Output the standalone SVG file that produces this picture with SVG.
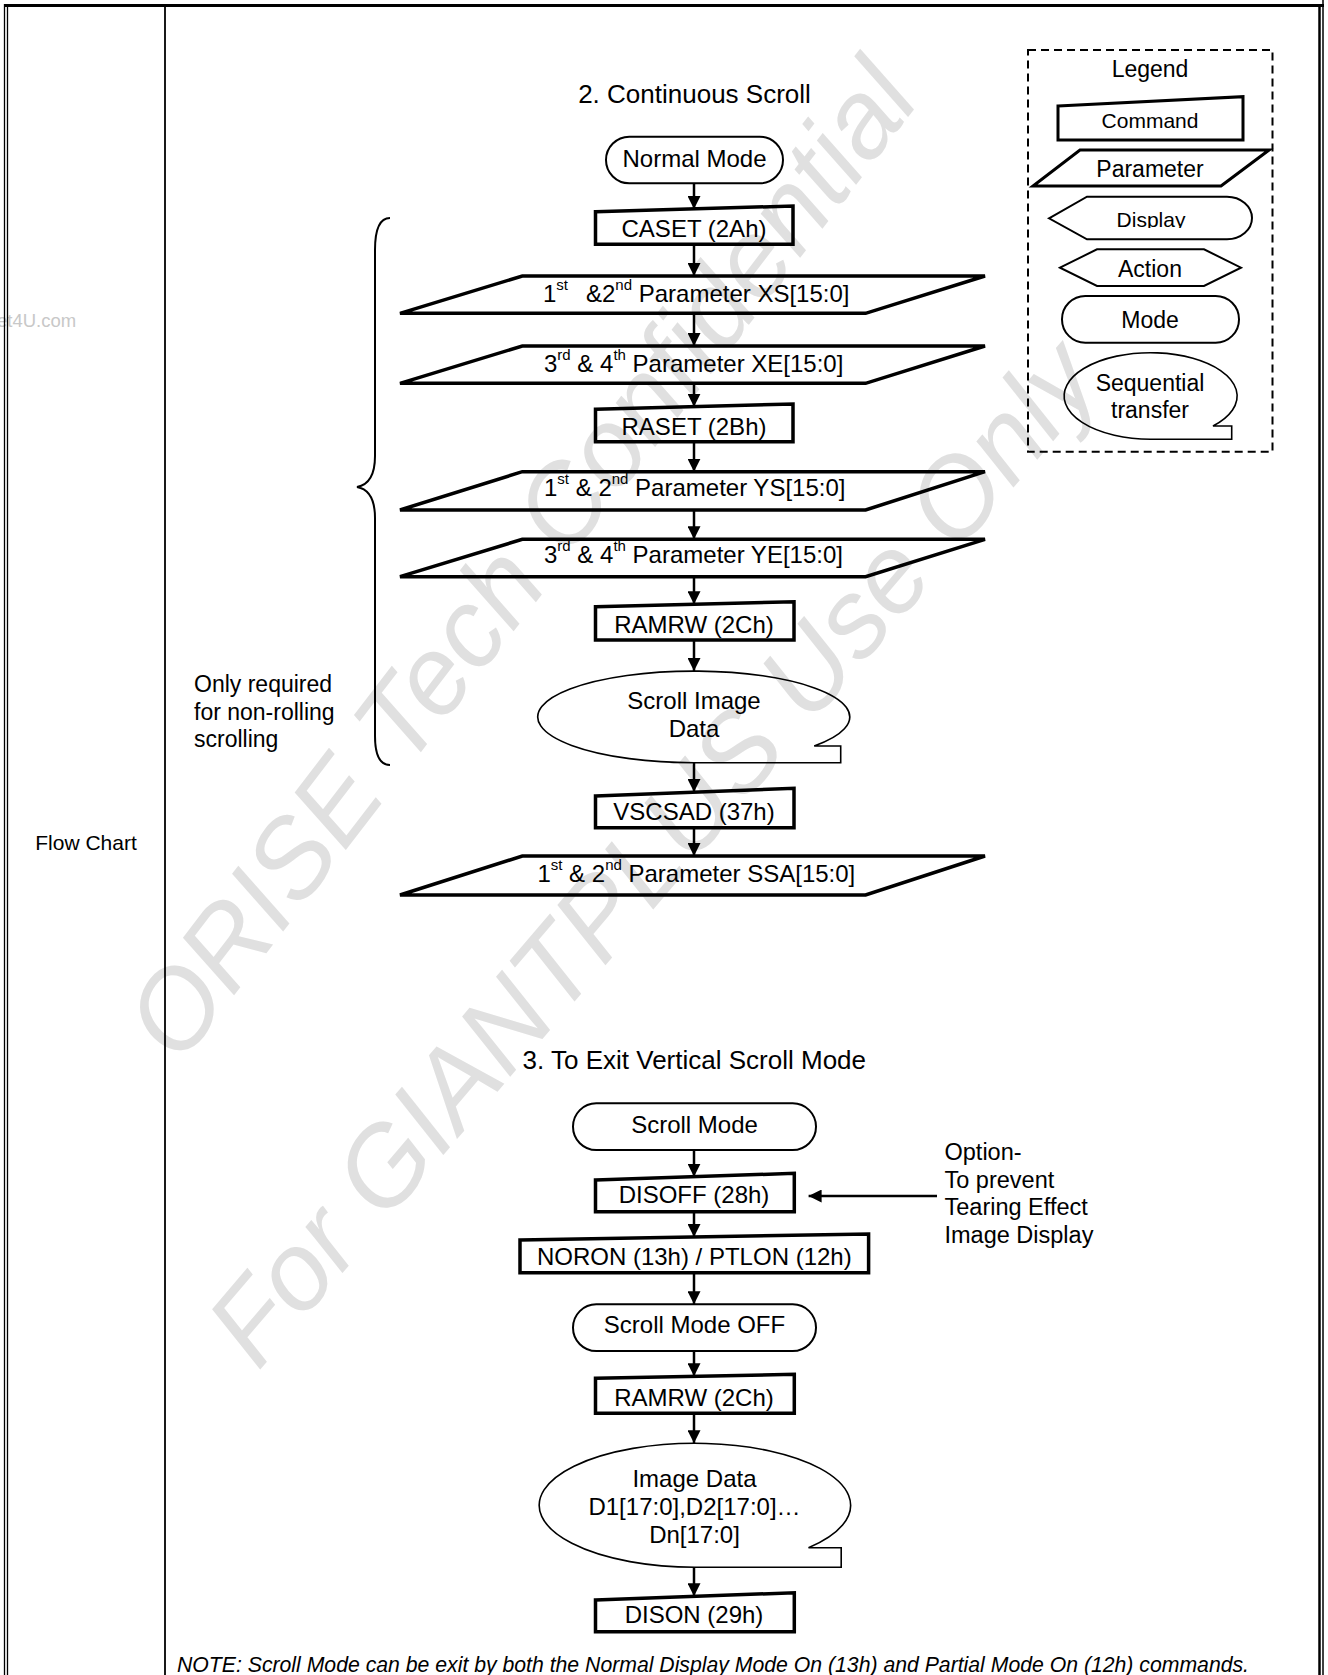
<svg xmlns="http://www.w3.org/2000/svg" width="1328" height="1675" viewBox="0 0 1328 1675">
<defs>
<style>
text{font-family:"Liberation Sans",Arial,sans-serif;fill:#000}
.t{font-size:24px;text-anchor:middle}
.p{font-size:24px}
.sup{font-size:15px}
.ttl{font-size:26px;text-anchor:middle}
.cmd{fill:none;stroke:#000;stroke-width:3.5;stroke-linejoin:miter}
.par{fill:none;stroke:#000;stroke-width:3.5;stroke-linejoin:miter}
.thin{fill:none;stroke:#000;stroke-width:2}
.conn{stroke:#000;stroke-width:2.5;fill:none}
.frm{stroke:#000;fill:none}
.wm{font-size:110px;font-style:italic;fill:#e0e0e0}
.lg{font-size:23px;text-anchor:middle}
.side{font-size:23px}
</style>
<marker id="ah" markerWidth="13" markerHeight="13" refX="13" refY="6.5" orient="auto" markerUnits="userSpaceOnUse"><path d="M0,0 L13,6.5 L0,13 Z" fill="#000"/></marker>
<clipPath id="dispclip"><rect x="1040" y="195" width="220" height="33"/></clipPath>
</defs>
<rect width="1328" height="1675" fill="#fff"/>

<g id="watermark">
<text class="wm" transform="translate(180,1066) rotate(-52.5)">ORISE Tech Confidential</text>
<text class="wm" transform="translate(258,1372) rotate(-49.5)">For GIANTPLUS Use Only</text>
<text x="-3" y="327" style="font-size:18.5px;fill:#c8c8c8">et4U.com</text>
</g>

<g id="frame" class="frm">
<line x1="4" y1="5.5" x2="1324" y2="5.5" stroke-width="3.2"/>
<line x1="4.5" y1="4" x2="4.5" y2="1675" stroke-width="1.3"/>
<line x1="7.5" y1="4" x2="7.5" y2="1675" stroke-width="1.3"/>
<line x1="165" y1="5" x2="165" y2="1675" stroke-width="1.8"/>
<line x1="1319.5" y1="4" x2="1319.5" y2="1675" stroke-width="2.5"/>
<line x1="1323" y1="0" x2="1323" y2="1675" stroke-width="1.5"/>
</g>

<g id="side-label">
<text x="86" y="850" style="font-size:21px;text-anchor:middle">Flow Chart</text>
</g>

<g id="legend">
<rect x="1028" y="50" width="244.5" height="401.7" fill="none" stroke="#000" stroke-width="2" stroke-dasharray="8,5"/>
<text class="lg" x="1150" y="76.7">Legend</text>
<polygon class="cmd" style="stroke-width:3" points="1058,106 1243,96.7 1243,140 1058,140"/>
<text x="1150" y="128.3" style="font-size:21px;text-anchor:middle">Command</text>
<polygon class="par" style="stroke-width:3" points="1080,150 1269,150 1221,186 1033,186"/>
<text class="lg" x="1150" y="176.7">Parameter</text>
<path class="thin" d="M1049,218.3 L1087,196.7 L1227,196.7 A25,21.3 0 0 1 1227,239.3 L1087,239.3 Z"/>
<text x="1151" y="226.7" clip-path="url(#dispclip)" style="font-size:21px;text-anchor:middle">Display</text>
<polygon class="thin" points="1060,267.7 1097,249.3 1204,249.3 1241,267.7 1204,286 1097,286"/>
<text class="lg" x="1150" y="276.7">Action</text>
<rect class="thin" x="1062" y="296" width="177" height="46.7" rx="23.3"/>
<text class="lg" x="1150" y="328.3">Mode</text>
<path class="thin" style="stroke-width:1.6" d="M1231.7,439.3 L1150.5,439.3 A86.5,43.3 0 1 1 1213,426 L1231.7,426 Z"/>
<text class="lg" x="1150" y="390.7">Sequential</text>
<text class="lg" x="1150" y="418.3">transfer</text>
</g>

<g id="bracket">
<path class="thin" d="M390,218 C380,218 375,230 375,250 L375,456 C375,476 368,485 357,487 C368,489 375,498 375,518 L375,736 C375,754 380,765 390,765"/>
<text class="side" x="194" y="692">Only required</text>
<text class="side" x="194" y="720">for non-rolling</text>
<text class="side" x="194" y="747">scrolling</text>
</g>

<g id="title-2"><text class="ttl" x="694.5" y="102.7">2. Continuous Scroll</text></g>

<g id="n-normal-mode">
<rect class="thin" x="606" y="136.7" width="177" height="46.6" rx="23.3"/>
<text class="t" x="694.5" y="166.7">Normal Mode</text>
</g>
<g id="n-caset">
<polygon class="cmd" points="595.5,211.7 793,206 793,244.3 595.5,244.3"/>
<text class="t" x="694" y="236.7">CASET (2Ah)</text>
</g>
<g id="n-xs">
<polygon class="par" points="522.3,276 985,276 865.6,313.3 400,313.3"/>
<text class="p" x="543" y="301.7">1<tspan class="sup" dy="-12">st</tspan><tspan x="586" dy="12">&amp;2</tspan><tspan class="sup" dy="-12">nd</tspan><tspan dy="12"> Parameter XS[15:0]</tspan></text>
</g>
<g id="n-xe">
<polygon class="par" points="522.3,346 985,346 865.6,383.3 400,383.3"/>
<text class="p" x="544" y="371.7">3<tspan class="sup" dy="-12">rd</tspan><tspan dy="12"> &amp; 4</tspan><tspan class="sup" dy="-12">th</tspan><tspan dy="12"> Parameter XE[15:0]</tspan></text>
</g>
<g id="n-raset">
<polygon class="cmd" points="595.5,409.3 793,404 793,441.7 595.5,441.7"/>
<text class="t" x="694" y="435">RASET (2Bh)</text>
</g>
<g id="n-ys">
<polygon class="par" points="522.3,471.7 985,471.7 865.6,510 400,510"/>
<text class="p" x="544" y="496">1<tspan class="sup" dy="-12">st</tspan><tspan dy="12"> &amp; 2</tspan><tspan class="sup" dy="-12">nd</tspan><tspan dy="12"> Parameter YS[15:0]</tspan></text>
</g>
<g id="n-ye">
<polygon class="par" points="522.3,539.3 985,539.3 865.6,576.7 400,576.7"/>
<text class="p" x="544" y="563.3">3<tspan class="sup" dy="-12">rd</tspan><tspan dy="12"> &amp; 4</tspan><tspan class="sup" dy="-12">th</tspan><tspan dy="12"> Parameter YE[15:0]</tspan></text>
</g>
<g id="n-ramrw">
<polygon class="cmd" points="595.5,606.7 794,601.7 794,640 595.5,640"/>
<text class="t" x="694" y="632.7">RAMRW (2Ch)</text>
</g>
<g id="n-scroll-image-data">
<path class="thin" style="stroke-width:1.6" d="M840.7,762.7 L694,762.7 A156,45.8 0 1 1 814.2,746 L840.7,746 Z"/>
<text class="t" x="694" y="709.3">Scroll Image</text>
<text class="t" x="694" y="736.7">Data</text>
</g>
<g id="n-vscsad">
<polygon class="cmd" points="595.5,796 794,788.3 794,827.7 595.5,827.7"/>
<text class="t" x="694" y="820">VSCSAD (37h)</text>
</g>
<g id="n-ssa">
<polygon class="par" points="522.3,856 985,856 865.6,895 400,895"/>
<text class="p" x="537.4" y="881.7">1<tspan class="sup" dy="-12">st</tspan><tspan dy="12"> &amp; 2</tspan><tspan class="sup" dy="-12">nd</tspan><tspan dy="12"> Parameter SSA[15:0]</tspan></text>
</g>

<g id="title-3"><text class="ttl" x="694.3" y="1069.3">3. To Exit Vertical Scroll Mode</text></g>

<g id="n-scroll-mode">
<rect class="thin" x="573" y="1103.3" width="243" height="46.7" rx="23.3"/>
<text class="t" x="694.5" y="1133.3">Scroll Mode</text>
</g>
<g id="n-disoff">
<polygon class="cmd" points="595.5,1180 794.3,1173.3 794.3,1211.7 595.5,1211.7"/>
<text class="t" x="694" y="1203.3">DISOFF (28h)</text>
</g>
<g id="n-option">
<text class="side" x="944.5" y="1160" style="font-size:23.5px">Option-</text>
<text class="side" x="944.5" y="1188" style="font-size:23.5px">To prevent</text>
<text class="side" x="944.5" y="1215" style="font-size:23.5px">Tearing Effect</text>
<text class="side" x="944.5" y="1242.5" style="font-size:23.5px">Image Display</text>
</g>
<g id="n-noron">
<polygon class="cmd" points="520,1240 868.6,1234 868.6,1272.7 520,1272.7"/>
<text class="t" x="694.3" y="1265">NORON (13h) / PTLON (12h)</text>
</g>
<g id="n-scroll-mode-off">
<rect class="thin" x="573" y="1304.3" width="243" height="46.7" rx="23.3"/>
<text class="t" x="694.5" y="1333.3">Scroll Mode OFF</text>
</g>
<g id="n-ramrw2">
<polygon class="cmd" points="595.5,1378.3 794.3,1374.3 794.3,1413.3 595.5,1413.3"/>
<text class="t" x="694" y="1406">RAMRW (2Ch)</text>
</g>
<g id="n-image-data">
<path class="thin" style="stroke-width:1.6" d="M841.2,1567.3 L694.9,1567.3 A155.7,62 0 1 1 808.5,1547.7 L841.2,1547.7 Z"/>
<text class="t" x="694.5" y="1487.3">Image Data</text>
<text class="t" x="694.5" y="1515">D1[17:0],D2[17:0]…</text>
<text class="t" x="694.5" y="1542.7">Dn[17:0]</text>
</g>
<g id="n-dison">
<polygon class="cmd" points="595.5,1600 794.3,1592.7 794.3,1631.7 595.5,1631.7"/>
<text class="t" x="694" y="1623.3">DISON (29h)</text>
</g>

<g id="note">
<text x="177" y="1672" textLength="1072" lengthAdjust="spacingAndGlyphs" style="font-size:22px;font-style:italic">NOTE: Scroll Mode can be exit by both the Normal Display Mode On (13h) and Partial Mode On (12h) commands.</text>
</g>

<g id="connectors" class="conn">
<line x1="694" y1="183.3" x2="694" y2="209" marker-end="url(#ah)"/>
<line x1="694" y1="244.3" x2="694" y2="276" marker-end="url(#ah)"/>
<line x1="694" y1="313.3" x2="694" y2="346" marker-end="url(#ah)"/>
<line x1="694" y1="383.3" x2="694" y2="406.7" marker-end="url(#ah)"/>
<line x1="694" y1="441.7" x2="694" y2="471.7" marker-end="url(#ah)"/>
<line x1="694" y1="510" x2="694" y2="539.3" marker-end="url(#ah)"/>
<line x1="694" y1="576.7" x2="694" y2="604.2" marker-end="url(#ah)"/>
<line x1="694" y1="640" x2="694" y2="671" marker-end="url(#ah)"/>
<line x1="694" y1="762.7" x2="694" y2="792" marker-end="url(#ah)"/>
<line x1="694" y1="827.7" x2="694" y2="856" marker-end="url(#ah)"/>
<line x1="694" y1="1150" x2="694" y2="1176.7" marker-end="url(#ah)"/>
<line x1="694" y1="1211.7" x2="694" y2="1237" marker-end="url(#ah)"/>
<line x1="694" y1="1272.7" x2="694" y2="1304.3" marker-end="url(#ah)"/>
<line x1="694" y1="1351" x2="694" y2="1376.3" marker-end="url(#ah)"/>
<line x1="694" y1="1413.3" x2="694" y2="1443.3" marker-end="url(#ah)"/>
<line x1="694" y1="1567.3" x2="694" y2="1596.3" marker-end="url(#ah)"/>
<line x1="937" y1="1196" x2="808.6" y2="1196" marker-end="url(#ah)"/>
</g>
</svg>
